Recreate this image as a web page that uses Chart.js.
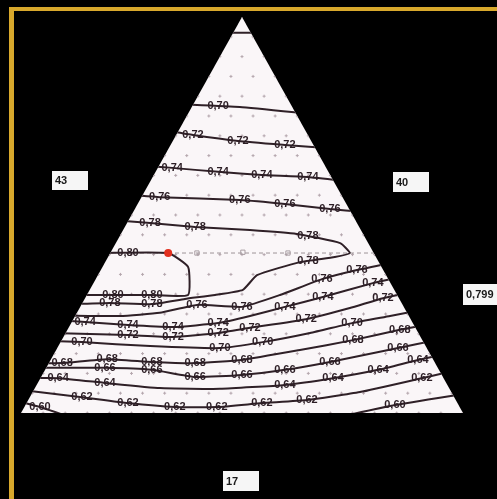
<!DOCTYPE html>
<html>
<head>
<meta charset="utf-8">
<script src="https://cdn.jsdelivr.net/npm/chart.js@4/dist/chart.umd.min.js"></script>
<style>
  html, body { margin: 0; padding: 0; background: #000; overflow: hidden; }
  #wrap { width: 497px; height: 499px; position: relative; }
</style>
</head>
<body>
<div id="wrap"><canvas id="c" width="497" height="499"></canvas></div>
<script>
// Mixture triangle drawn in plane coordinates:
// x runs 0..100 along the base, y is the share of the top component (0..100).

// Contour paths [x, y] and the spots where each level is written on its path.
const contour068 = [[44, 96], [56, 96]];
const contour070 = [[36, 78.0], [49.5, 77.3], [65, 75.6]];
const labels070 = [[44.6, 77.6]];
const contour072 = [[33, 71.3], [38.9, 70.2], [49.1, 68.7], [59.7, 67.7], [69, 66.9]];
const labels072 = [[38.9, 70.2], [49.1, 68.7], [59.7, 67.7]];
const contour074 = [[29, 62.4], [34.2, 61.9], [44.6, 60.9], [54.5, 60.1], [64.9, 59.6], [74, 58.5]];
const labels074 = [[34.2, 61.9], [44.6, 60.9], [54.5, 60.1], [64.9, 59.6]];
const contour076 = [[25.5, 55.0], [31.4, 54.5], [49.5, 53.8], [59.7, 52.8], [69.9, 51.5], [77, 50.8]];
const labels076 = [[31.4, 54.5], [49.5, 53.8], [59.7, 52.8], [69.9, 51.5]];
const contour078 = [[22, 48.6], [29.2, 48.0], [39.4, 47.0], [51.8, 46.2], [62.4, 45.2], [72.2, 42.9],
  [74.4, 40.4], [71.0, 39.4], [63.1, 38.1], [53.4, 34.8], [50.2, 31.1], [43.9, 29.8], [37.1, 28.8],
  [29.6, 27.5], [20.1, 27.8], [12, 27.5]];
const labels078 = [[29.2, 48.0], [39.4, 47.0], [64.9, 44.6], [64.9, 38.4], [20.1, 27.8], [29.6, 27.5]];
const contour080 = [[18, 40.4], [33.3, 40.4], [37.8, 36.9], [37.8, 29.8], [29.2, 29.8], [13, 29.8]];
const labels080 = [[24.2, 40.4], [20.8, 29.8], [29.6, 29.8]];
const contour076Low = [[10, 24.6], [22.4, 24.5], [31.4, 25.3], [39.8, 27.3], [50.0, 26.8], [58.6, 29.8],
  [68.1, 33.8], [76.0, 36.1], [85, 38.2]];
const labels076Low = [[39.8, 27.3], [50.0, 26.8], [68.1, 33.8], [76.0, 36.1]];
const contour074Low = [[8, 23.5], [14.5, 23.0], [24.2, 22.2], [34.4, 21.7], [44.6, 22.7], [51.8, 24.5],
  [59.7, 26.8], [68.3, 29.3], [79.6, 32.8], [86, 34.4]];
const labels074Low = [[14.5, 23.0], [24.2, 22.2], [34.4, 21.7], [44.6, 22.7], [59.7, 26.8], [68.3, 29.3], [79.6, 32.8]];
const contour072Low = [[7, 20.2], [24.2, 19.7], [34.4, 19.2], [44.6, 20.2], [51.8, 21.5], [64.5, 23.7],
  [74.4, 26.5], [81.9, 29.0], [89.5, 30.8]];
const labels072Low = [[24.2, 19.7], [34.4, 19.2], [44.6, 20.2], [51.8, 21.5], [64.5, 23.7], [81.9, 29.0]];
const contour070Low = [[7, 18.2], [13.8, 17.9], [29.2, 16.9], [45.0, 16.4], [54.7, 17.9], [65.4, 20.2],
  [74.9, 22.7], [83.5, 24.5], [90.5, 26.0]];
const labels070Low = [[13.8, 17.9], [45.0, 16.4], [54.7, 17.9], [74.9, 22.7]];
const contour068Low = [[4, 12.6], [9.3, 12.6], [19.5, 13.6], [29.6, 12.9], [39.4, 12.6], [50.0, 13.4],
  [63.1, 15.9], [75.1, 18.4], [85.7, 21.0], [93, 22.6]];
const labels068Low = [[9.3, 12.6], [19.5, 13.6], [29.6, 12.9], [39.4, 12.6], [50.0, 13.4], [75.1, 18.4], [85.7, 21.0]];
const contour066 = [[4, 11.4], [19.0, 11.4], [29.6, 10.9], [39.4, 9.1], [50.0, 9.6], [59.7, 10.9],
  [69.9, 12.9], [85.3, 16.4], [94, 18.4]];
const labels066 = [[19.0, 11.4], [29.6, 10.9], [39.4, 9.1], [50.0, 9.6], [59.7, 10.9], [69.9, 12.9], [85.3, 16.4]];
const contour064 = [[1, 8.8], [8.4, 8.8], [19.0, 7.6], [31.4, 6.3], [45.0, 6.1], [59.7, 7.1], [70.6, 8.8],
  [80.8, 10.9], [89.8, 13.4], [96, 14.9]];
const labels064 = [[8.4, 8.8], [19.0, 7.6], [59.7, 7.1], [70.6, 8.8], [80.8, 10.9], [89.8, 13.4]];
const contour062 = [[1.6, 5.6], [13.8, 4.0], [24.2, 2.5], [34.8, 1.5], [44.3, 1.5], [54.5, 2.5], [64.7, 3.3],
  [76.7, 5.3], [90.7, 8.8], [97, 10.4]];
const labels062 = [[13.8, 4.0], [24.2, 2.5], [34.8, 1.5], [44.3, 1.5], [54.5, 2.5], [64.7, 3.3], [90.7, 8.8]];
const contour060Left = [[0, 2.8], [4.3, 1.5], [11, -1]];
const labels060Left = [[4.3, 1.5]];
const contour060Right = [[72, -1], [84.6, 2.0], [100, 4.8]];
const labels060Right = [[84.6, 2.0]];

// Tested blends: the optimum (red) and the other runs on the same row.
const optimumBlend = [33.3, 40.4];
const otherBlends = [[39.8, 40.4], [50.2, 40.6], [60.4, 40.4]];

// Component shares of the optimum and its predicted response.
const shareLeft = '43';
const shareRight = '40';
const shareBottom = '17';
const predicted = '0,799';

const contours = [
  { level: 0.68, path: contour068, labels: [] },
  { level: 0.70, path: contour070, labels: labels070 },
  { level: 0.72, path: contour072, labels: labels072 },
  { level: 0.74, path: contour074, labels: labels074 },
  { level: 0.76, path: contour076, labels: labels076 },
  { level: 0.78, path: contour078, labels: labels078 },
  { level: 0.80, path: contour080, labels: labels080 },
  { level: 0.76, path: contour076Low, labels: labels076Low },
  { level: 0.74, path: contour074Low, labels: labels074Low },
  { level: 0.72, path: contour072Low, labels: labels072Low },
  { level: 0.70, path: contour070Low, labels: labels070Low },
  { level: 0.68, path: contour068Low, labels: labels068Low },
  { level: 0.66, path: contour066, labels: labels066 },
  { level: 0.64, path: contour064, labels: labels064 },
  { level: 0.62, path: contour062, labels: labels062 },
  { level: 0.60, path: contour060Left, labels: labels060Left },
  { level: 0.60, path: contour060Right, labels: labels060Right }
];

const toXY = p => ({ x: p[0], y: p[1] });
const fmt = v => v.toFixed(2).replace('.', ',');

const LINE = '#2f2027';

const datasets = [
  {
    label: 'optimum',
    data: [toXY(optimumBlend)],
    pointRadius: 4,
    pointBackgroundColor: '#e2301f',
    pointBorderWidth: 0,
    showLine: false
  },
  {
    label: 'runs',
    data: otherBlends.map(toXY),
    pointStyle: 'rect',
    pointRadius: 3,
    pointBackgroundColor: 'rgba(0,0,0,0)',
    pointBorderColor: '#a99ea3',
    pointBorderWidth: 1,
    showLine: false
  }
].concat(contours.map(c => ({
  label: fmt(c.level),
  data: c.path.map(toXY),
  showLine: true,
  borderColor: LINE,
  borderWidth: 2,
  pointRadius: 0,
  tension: 0.15,
  fill: false
})));

const ternaryPlugin = {
  id: 'ternary',
  beforeDatasetsDraw(chart) {
    const { ctx, scales: { x, y } } = chart;
    const P = (a, b) => [x.getPixelForValue(a), y.getPixelForValue(b)];
    const A = P(0, 0), B = P(100, 0), C = P(50, 100);
    ctx.save();
    ctx.beginPath();
    ctx.moveTo(A[0], A[1]); ctx.lineTo(B[0], B[1]); ctx.lineTo(C[0], C[1]); ctx.closePath();
    ctx.fillStyle = '#faf6f8';
    ctx.fill();
    ctx.clip();

    // lattice marks every 5 %
    ctx.strokeStyle = '#b4a6ad';
    ctx.lineWidth = 1;
    for (let a = 0; a <= 100; a += 5) {
      for (let c = 0; c <= 100 - a; c += 5) {
        const [px, py] = P(c + a / 2, a);
        ctx.beginPath();
        ctx.moveTo(px - 1.5, py); ctx.lineTo(px + 1.5, py);
        ctx.moveTo(px, py - 1.5); ctx.lineTo(px, py + 1.5);
        ctx.stroke();
      }
    }
    // dashed row through the tested blends
    const rowY = y.getPixelForValue(optimumBlend[1]);
    ctx.setLineDash([4, 3]);
    ctx.strokeStyle = '#9d9398';
    ctx.beginPath();
    ctx.moveTo(A[0], rowY); ctx.lineTo(B[0], rowY);
    ctx.stroke();
    ctx.setLineDash([]);
    // contours stay inside the triangle
  },
  afterDatasetsDraw(chart) {
    const { ctx, scales: { x, y } } = chart;
    ctx.restore();

    // level labels on the contours
    ctx.save();
    ctx.font = 'bold 11px "Liberation Sans", Arial, sans-serif';
    ctx.fillStyle = '#2c1e25';
    ctx.textAlign = 'center';
    ctx.textBaseline = 'middle';
    contours.forEach(c => {
      c.labels.forEach(p => {
        ctx.fillText(fmt(c.level), x.getPixelForValue(p[0]), y.getPixelForValue(p[1]));
      });
    });
    ctx.restore();

    // composition and response boxes
    ctx.save();
    ctx.font = 'bold 11px "Liberation Sans", Arial, sans-serif';
    ctx.textBaseline = 'middle';
    const box = (bx, by, w, h, t) => {
      ctx.fillStyle = '#f6f6f6';
      ctx.fillRect(bx, by, w, h);
      ctx.fillStyle = '#1a1a1a';
      ctx.textAlign = 'left';
      ctx.fillText(t, bx + 3, by + h / 2 + 0.5);
    };
    box(52, 171, 36, 19, shareLeft);
    box(393, 172, 36, 20, shareRight);
    box(223, 471, 36, 20, shareBottom);
    box(463, 284, 40, 21, predicted);
    ctx.restore();

    // frame
    ctx.save();
    ctx.fillStyle = '#d8a82c';
    ctx.fillRect(9, 7, 488, 4);
    ctx.fillRect(9, 7, 5, 492);
    ctx.restore();
  }
};

new Chart(document.getElementById('c'), {
  type: 'scatter',
  data: { datasets },
  options: {
    responsive: false,
    animation: false,
    layout: { padding: { left: 21, right: 34, top: 17, bottom: 86 } },
    scales: {
      x: { type: 'linear', min: 0, max: 100, display: false },
      y: { type: 'linear', min: 0, max: 100, display: false }
    },
    plugins: {
      legend: { display: false },
      tooltip: { enabled: false }
    }
  },
  plugins: [ternaryPlugin]
});
</script>
</body>
</html>
